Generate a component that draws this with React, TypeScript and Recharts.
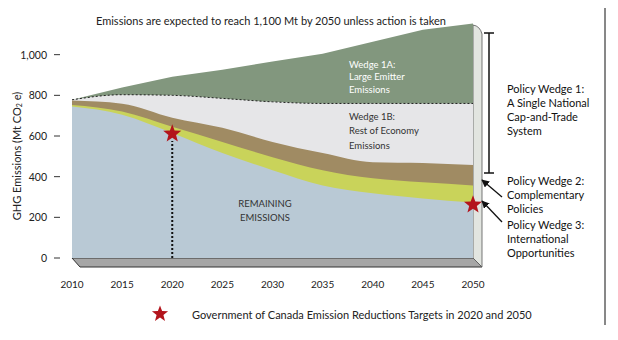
import React from 'react';
import { ComposedChart, Area, Scatter, XAxis, YAxis, ReferenceLine } from 'recharts';

// values in Mt CO2e
const years = [2010, 2015, 2020, 2025, 2030, 2035, 2040, 2045, 2050];
const businessAsUsual = [778, 839, 892, 926, 966, 1005, 1064, 1123, 1153];
const wedge1aFloor = [778, 803, 800, 785, 768, 760, 760, 760, 760];
const wedge1bFloor = [774, 759, 690, 640, 571, 516, 471, 467, 457];
const wedge2Floor = [752, 720, 645, 571, 496, 432, 392, 372, 357];
const remaining = [745, 705, 615, 516, 432, 357, 318, 293, 273];

const targetYears = [2020, 2050];
const targetValues = [611, 262];

const yTicks = [0, 200, 400, 600, 800, 1000];

const data = years.map((year, i) => ({
  year,
  bau: businessAsUsual[i],
  w1a: wedge1aFloor[i],
  w1b: wedge1bFloor[i],
  w2: wedge2Floor[i],
  rest: remaining[i],
}));
const targets = targetYears.map((year, i) => ({ year, value: targetValues[i] }));

const W = 618;
const H = 340;
const margin = { top: 14, right: 145, bottom: 52, left: 12 };
const yAxisWidth = 60;
const xAxisHeight = 30;
const plotLeft = margin.left + yAxisWidth;
const plotRight = W - margin.right;
const plotBottom = H - margin.bottom - xAxisHeight;

const font = 'Lato, "Open Sans", sans-serif';
const colors = {
  green: '#82977e',
  lightGray: '#e6e6e8',
  brown: '#a08b63',
  yellow: '#c9d35a',
  blue: '#b9c9d5',
  floor: '#a6a6a6',
  panel: '#e2e5e0',
  red: '#b3141c',
  text: '#222',
};

function starPath(cx: number, cy: number, outer: number, inner: number) {
  const pts: string[] = [];
  for (let i = 0; i < 10; i++) {
    const r = i % 2 === 0 ? outer : inner;
    const a = (-90 + i * 36) * (Math.PI / 180);
    pts.push(`${cx + r * Math.cos(a)},${cy + r * Math.sin(a)}`);
  }
  return `M${pts.join('L')}Z`;
}

const StarShape = (props: any) => (
  <path d={starPath(props.cx, props.cy, 9.5, 4)} fill={colors.red} />
);

const YTick = (props: any) => {
  const { x, y, payload } = props;
  return (
    <g>
      <text x={x - 17} y={y} textAnchor="end" dominantBaseline="central" fontSize={10.5} fill={colors.text} fontFamily={font}>
        {payload.value.toLocaleString('en-US')}
      </text>
      <line x1={x - 10} x2={x - 4} y1={y} y2={y} stroke="#333" strokeWidth={1} />
    </g>
  );
};

const XTick = (props: any) => {
  const { x, y, payload } = props;
  return (
    <text x={x} y={y + 18} textAnchor="middle" dominantBaseline="central" fontSize={10} fill={colors.text} fontFamily={font}>
      {payload.value}
    </text>
  );
};

export default function App() {
  const txt = { fontFamily: font, fill: colors.text };
  return (
    <div style={{ position: 'absolute', left: 0, top: 0, width: W, height: H, background: '#fff' }}>
      {/* 3D floor and side wall, beneath the chart */}
      <svg width={W} height={H} style={{ position: 'absolute', left: 0, top: 0 }}>
        <polygon
          points={`${plotLeft},${plotBottom} ${plotRight},${plotBottom} ${plotRight + 9},${plotBottom + 9} ${plotLeft + 8},${plotBottom + 9}`}
          fill={colors.floor}
          stroke="#333"
          strokeWidth={1}
        />
        <path
          d={`M${plotRight},${plotBottom} L${plotRight},25 Q${plotRight + 7},26 ${plotRight + 9},34 L${plotRight + 9},${plotBottom + 9} Z`}
          fill={colors.panel}
          stroke="#555"
          strokeWidth={0.8}
        />
      </svg>

      <div style={{ position: 'absolute', left: 0, top: 0 }}>
        <ComposedChart width={W} height={H} data={data} margin={margin}>
          <XAxis
            dataKey="year"
            type="number"
            domain={[2010, 2050]}
            ticks={years}
            axisLine={false}
            tickLine={false}
            height={xAxisHeight}
            tick={<XTick />}
          />
          <YAxis
            domain={[0, 1200]}
            ticks={yTicks}
            axisLine={false}
            tickLine={false}
            width={yAxisWidth}
            tick={<YTick />}
          />
          <Area type="linear" dataKey="bau" stroke="none" fill={colors.green} fillOpacity={1} isAnimationActive={false} />
          <Area
            type="monotone"
            dataKey="w1a"
            stroke="#222"
            strokeWidth={1}
            strokeDasharray="2 2"
            fill={colors.lightGray}
            fillOpacity={1}
            isAnimationActive={false}
          />
          <Area type="monotone" dataKey="w1b" stroke="none" fill={colors.brown} fillOpacity={1} isAnimationActive={false} />
          <Area type="monotone" dataKey="w2" stroke="none" fill={colors.yellow} fillOpacity={1} isAnimationActive={false} />
          <Area type="monotone" dataKey="rest" stroke="none" fill={colors.blue} fillOpacity={1} isAnimationActive={false} />
          <ReferenceLine
            segment={[
              { x: 2020, y: 0 },
              { x: 2020, y: 575 },
            ]}
            stroke="#111"
            strokeWidth={2}
            strokeDasharray="2 2"
          />
          <Scatter data={targets} dataKey="value" shape={StarShape} isAnimationActive={false} />
        </ComposedChart>
      </div>

      {/* labels and annotations */}
      <svg width={W} height={H} style={{ position: 'absolute', left: 0, top: 0, pointerEvents: 'none' }}>
        <defs>
          <marker id="head" viewBox="0 0 10 10" refX="9" refY="5" markerWidth="6" markerHeight="6" orient="auto">
            <path d="M0,0 L10,5 L0,10 Z" fill="#111" />
          </marker>
        </defs>
        <text x={271} y={20} textAnchor="middle" dominantBaseline="central" fontSize={11} {...txt}>
          Emissions are expected to reach 1,100 Mt  by 2050 unless action is taken
        </text>
        <text
          x={16}
          y={156}
          transform="rotate(-90 16 156)"
          textAnchor="middle"
          dominantBaseline="central"
          fontSize={11}
          {...txt}
        >
          GHG Emissions (Mt CO<tspan fontSize={7} dy={3}>2</tspan>
          <tspan dy={-3}> e)</tspan>
        </text>

        <g fontFamily={font} fontSize={9.5} fill="#fff">
          <text x={349} y={64} dominantBaseline="central">Wedge 1A:</text>
          <text x={349} y={76} dominantBaseline="central">Large Emitter</text>
          <text x={349} y={89} dominantBaseline="central">Emissions</text>
        </g>
        <g fontFamily={font} fontSize={9.5} fill="#333">
          <text x={349} y={116} dominantBaseline="central">Wedge 1B:</text>
          <text x={349} y={130} dominantBaseline="central">Rest of Economy</text>
          <text x={349} y={145} dominantBaseline="central">Emissions</text>
          <text x={265} y={203} textAnchor="middle" dominantBaseline="central">REMAINING</text>
          <text x={265} y={217} textAnchor="middle" dominantBaseline="central">EMISSIONS</text>
        </g>

        {/* bracket for policy wedge 1 */}
        <line x1={489} x2={489} y1={33} y2={173} stroke="#111" strokeWidth={1.5} />
        <line x1={484} x2={494} y1={33} y2={33} stroke="#111" strokeWidth={1.5} />
        <line x1={484} x2={494} y1={173} y2={173} stroke="#111" strokeWidth={1.5} />

        <line x1={502} y1={197} x2={482} y2={180} stroke="#111" strokeWidth={1.3} markerEnd="url(#head)" />
        <line x1={502} y1={222} x2={482} y2={201} stroke="#111" strokeWidth={1.3} markerEnd="url(#head)" />

        <g fontFamily={font} fontSize={11} fill="#111">
          <text x={507} y={88} dominantBaseline="central">Policy Wedge 1:</text>
          <text x={507} y={102} dominantBaseline="central">A Single National</text>
          <text x={507} y={116} dominantBaseline="central">Cap-and-Trade</text>
          <text x={507} y={130} dominantBaseline="central">System</text>
          <text x={507} y={180} dominantBaseline="central">Policy Wedge 2:</text>
          <text x={507} y={194} dominantBaseline="central">Complementary</text>
          <text x={507} y={208} dominantBaseline="central">Policies</text>
          <text x={507} y={224} dominantBaseline="central">Policy Wedge 3:</text>
          <text x={507} y={238} dominantBaseline="central">International</text>
          <text x={507} y={252} dominantBaseline="central">Opportunities</text>
        </g>

        <line x1={605} x2={605} y1={8} y2={325} stroke="#111" strokeWidth={1} />

        <path d={starPath(160, 314, 8.5, 3.6)} fill={colors.red} />
        <text x={192} y={314} dominantBaseline="central" fontSize={11} {...txt}>
          Government of Canada Emission Reductions Targets in 2020 and 2050
        </text>
      </svg>
    </div>
  );
}
